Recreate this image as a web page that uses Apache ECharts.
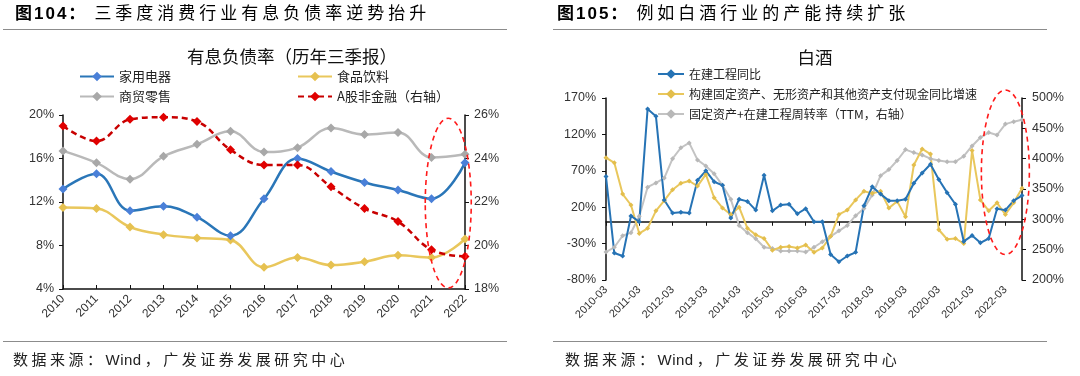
<!DOCTYPE html>
<html>
<head>
<meta charset="utf-8">
<script src="https://cdn.jsdelivr.net/npm/echarts@6.0.0/dist/echarts.min.js"></script>
<style>
  body { margin: 0; background: #fff; }
  #wrap { position: relative; width: 1080px; height: 376px; overflow: hidden;
          font-family: "Liberation Sans", "Noto Sans CJK SC", sans-serif; }
  #chart { position: absolute; left: 0; top: 0; width: 1080px; height: 376px; }
  .hd { position: absolute; top: 4px; font-size: 17px; line-height: 20px; letter-spacing: 4px;
        color: #000; white-space: nowrap; }
  .hd b { letter-spacing: 2px; margin-right: 7px; }
  .rule { position: absolute; height: 0; border-top: 1.5px solid #8c8c8c; }
  .ft { position: absolute; top: 350px; font-size: 15px; line-height: 20px; letter-spacing: 3.5px;
        color: #222; white-space: nowrap; }
  .ft span { letter-spacing: 0.5px; margin-right: 3px; }
</style>
</head>
<body>
<div id="wrap">
  <div id="chart"></div>
  <div class="hd" style="left:15px"><b>图104：</b>三季度消费行业有息负债率逆势抬升</div>
  <div class="hd" style="left:557px"><b>图105：</b>例如白酒行业的产能持续扩张</div>
  <div class="rule" style="left:3px;width:504px;top:29px"></div>
  <div class="rule" style="left:553px;width:494px;top:29px"></div>
  <div class="rule" style="left:3px;width:504px;top:341px"></div>
  <div class="rule" style="left:553px;width:494px;top:341px"></div>
  <div class="ft" style="left:13px">数据来源：<span>Wind</span>，广发证券发展研究中心</div>
  <div class="ft" style="left:565px">数据来源：<span>Wind</span>，广发证券发展研究中心</div>
</div>
<script>
// 左图：有息负债率（历年三季报）
const years = ['2010', '2011', '2012', '2013', '2014', '2015', '2016', '2017', '2018', '2019', '2020', '2021', '2022']
const homeAppliance = [13.2, 14.6, 11.2, 11.6, 10.6, 8.9, 12.3, 16.0, 14.8, 13.8, 13.1, 12.3, 15.6]
const foodBeverage = [11.5, 11.4, 9.7, 9.0, 8.7, 8.5, 6.0, 6.9, 6.2, 6.5, 7.1, 6.9, 8.6]
const retail = [16.7, 15.6, 14.1, 16.2, 17.3, 18.5, 16.6, 17.0, 18.8, 18.2, 18.4, 16.1, 16.4]
const aShareNonFin = [25.5, 24.8, 25.8, 25.9, 25.7, 24.4, 23.7, 23.7, 22.7, 21.7, 21.1, 19.8, 19.5] // 右轴

// 右图：白酒（季度，2010-03 ~ 2022-09）
const quarters = []
for (let y = 2010; y <= 2022; y++) {
  for (const m of ['03', '06', '09', '12']) quarters.push(y + '-' + m)
}
quarters.splice(51)
const cipYoY = [62, -43, -47, 8, 0, 155, 145, 30, 12, 13, 12, 57, 70, 55, 50, 5, 31, 28, 16, 64,
  15, 23, 24, 11, 18, 0, 0, -45, -55, -47, -42, 22, 48, 38, 29, 29, 31, 53, 67, 79,
  58, 40, 24, -27, -19, -29, -23, 18, 16, 29, 36]
const capexYoY = [88, 81, 38, 23, -16, -9, 15, 29, 44, 53, 56, 49, 65, 33, 19, 10, 20, -9, -18, -23,
  -39, -35, -34, -36, -32, -42, -36, -20, 10, 16, 30, 42, 39, 42, 19, 28, 7, 78, 100, 93,
  -11, -24, -23, -30, 98, 30, 15, 26, 10, 26, 46]
const turnover = [246, 254, 273, 278, 305, 353, 360, 368, 400, 418, 426, 398, 388, 375, 356, 333, 290, 278, 268, 254,
  252, 248, 248, 248, 246, 254, 263, 272, 281, 290, 306, 318, 340, 372, 382, 397, 415, 410, 406, 400,
  397, 395, 395, 404, 421, 435, 443, 439, 457, 461, 464] // 右轴

const FONT = '"Liberation Sans", "Noto Sans CJK SC", sans-serif'
const CJK = '"Noto Sans CJK SC", sans-serif'

const axisLine = { show: true, lineStyle: { color: '#111', width: 1.5 } }
const axisLabel = { color: '#333', fontSize: 12.5, fontFamily: FONT }

function line(name, data, color, marker, xi, yi, extra) {
  return Object.assign({
    name: name,
    type: 'line',
    data: data,
    xAxisIndex: xi,
    yAxisIndex: yi,
    symbol: 'diamond',
    symbolSize: 9,
    lineStyle: { color: color, width: 2.5 },
    itemStyle: { color: marker },
  }, extra || {})
}

const chart = echarts.init(document.getElementById('chart'))

chart.setOption({
  animation: false,
  textStyle: { fontFamily: FONT },
  legend: [
    {
      data: ['家用电器', '商贸零售'], orient: 'vertical', left: 74, top: 65,
      itemWidth: 34, itemHeight: 12, itemGap: 7,
      textStyle: { fontSize: 13, color: '#222', fontFamily: CJK },
    },
    {
      data: ['食品饮料', 'A股非金融（右轴）'], orient: 'vertical', left: 292, top: 65,
      itemWidth: 34, itemHeight: 12, itemGap: 7,
      textStyle: { fontSize: 13, color: '#222', fontFamily: CJK },
    },
    {
      data: ['在建工程同比', '构建固定资产、无形资产和其他资产支付现金同比增速', '固定资产+在建工程周转率（TTM，右轴）'],
      orient: 'vertical', left: 652, top: 63,
      itemWidth: 26, itemHeight: 12, itemGap: 8,
      textStyle: { fontSize: 12, color: '#222', fontFamily: CJK },
    },
  ],
  grid: [
    { left: 63, right: 615, top: 115, bottom: 87 },
    { left: 606, right: 58, top: 98, bottom: 96 },
  ],
  xAxis: [
    {
      gridIndex: 0, type: 'category', data: years, boundaryGap: false,
      axisLine: axisLine,
      axisTick: { inside: true, length: 4, lineStyle: { color: '#111' } },
      axisLabel: Object.assign({}, axisLabel, { rotate: 45, interval: 0, margin: 8, fontSize: 12 }),
    },
    {
      gridIndex: 1, type: 'category', data: quarters, boundaryGap: false,
      axisLine: { show: true, onZero: true, lineStyle: { color: '#111', width: 1.5 } },
      axisTick: { interval: 3, length: 4, lineStyle: { color: '#111' } },
      axisLabel: { show: false },
    },
    {
      gridIndex: 1, type: 'category', data: quarters, boundaryGap: false, position: 'bottom',
      axisLine: { show: false, onZero: false },
      axisTick: { show: false },
      axisLabel: Object.assign({}, axisLabel, { rotate: 45, interval: 3, margin: 8, fontSize: 11 }),
    },
  ],
  yAxis: [
    {
      gridIndex: 0, type: 'value', min: 4, max: 20, interval: 4, position: 'left',
      axisLine: axisLine, axisTick: { show: true, length: 4 }, splitLine: { show: false },
      axisLabel: Object.assign({}, axisLabel, { formatter: '{value}%', margin: 9 }),
    },
    {
      gridIndex: 0, type: 'value', min: 18, max: 26, interval: 2, position: 'right',
      axisLine: axisLine, axisTick: { show: true, length: 4 }, splitLine: { show: false },
      axisLabel: Object.assign({}, axisLabel, { formatter: '{value}%', margin: 9 }),
    },
    {
      gridIndex: 1, type: 'value', min: -80, max: 170, interval: 50, position: 'left',
      axisLine: axisLine, axisTick: { show: true, length: 4 }, splitLine: { show: false },
      axisLabel: Object.assign({}, axisLabel, { formatter: '{value}%', margin: 10 }),
    },
    {
      gridIndex: 1, type: 'value', min: 200, max: 500, interval: 50, position: 'right',
      axisLine: axisLine, axisTick: { show: true, length: 4 }, splitLine: { show: false },
      axisLabel: Object.assign({}, axisLabel, { formatter: '{value}%', margin: 10 }),
    },
  ],
  series: [
    line('商贸零售', retail, '#b9b9b9', '#a8a8a8', 0, 0, { smooth: 0.4 }),
    line('食品饮料', foodBeverage, '#e9c75c', '#e6c150', 0, 0, { smooth: 0.4 }),
    line('家用电器', homeAppliance, '#2a76b8', '#4a80d8', 0, 0, { smooth: 0.4 }),
    line('A股非金融（右轴）', aShareNonFin, '#c00000', '#e00000', 0, 1,
      { smooth: 0.4, lineStyle: { color: '#c80000', width: 2.5, type: [6, 4] } }),
    line('固定资产+在建工程周转率（TTM，右轴）', turnover, '#c3c3c3', '#b8b8b8', 1, 3,
      { symbolSize: 5, lineStyle: { color: '#c3c3c3', width: 2 } }),
    line('构建固定资产、无形资产和其他资产支付现金同比增速', capexYoY, '#e9c75c', '#e3be4c', 1, 2,
      { symbolSize: 5, lineStyle: { color: '#e9c75c', width: 2 } }),
    line('在建工程同比', cipYoY, '#2673b5', '#2673b5', 1, 2,
      { symbolSize: 5, lineStyle: { color: '#2673b5', width: 2 } }),
  ],
})

// 红色虚线圈，位置按坐标轴换算
const L = (x, y) => chart.convertToPixel({ xAxisIndex: 0, yAxisIndex: 0 }, [x, y])
const R = (x, y) => chart.convertToPixel({ xAxisIndex: 1, yAxisIndex: 2 }, [x, y])
const l21 = L('2021', 12), l22 = L('2022', 12)
const lTop = L('2021', 19.7), lBot = L('2021', 4.1)
const r22 = R('2022-03', 68), rTop = R('2022-03', 181), rBot = R('2022-03', -45)
const ringStyle = { fill: 'none', stroke: '#ff1a1a', lineWidth: 1.6, lineDash: [5, 4] }

chart.setOption({
  graphic: [
    {
      type: 'text', id: 't1', x: 292, y: 56,
      style: { text: '有息负债率（历年三季报）', font: '17.5px ' + CJK, fill: '#111', align: 'center', verticalAlign: 'middle' },
    },
    {
      type: 'text', id: 't2', x: 815, y: 57,
      style: { text: '白酒', font: '17.5px ' + CJK, fill: '#111', align: 'center', verticalAlign: 'middle' },
    },
    {
      type: 'ellipse', id: 'e1', z: 100,
      shape: { cx: (l21[0] + l22[0]) / 2, cy: (lTop[1] + lBot[1]) / 2, rx: 23, ry: (lBot[1] - lTop[1]) / 2 },
      style: ringStyle,
    },
    {
      type: 'ellipse', id: 'e2', z: 100,
      shape: { cx: r22[0], cy: (rTop[1] + rBot[1]) / 2, rx: 24, ry: (rBot[1] - rTop[1]) / 2 },
      style: ringStyle,
    },
  ],
})
</script>
</body>
</html>
